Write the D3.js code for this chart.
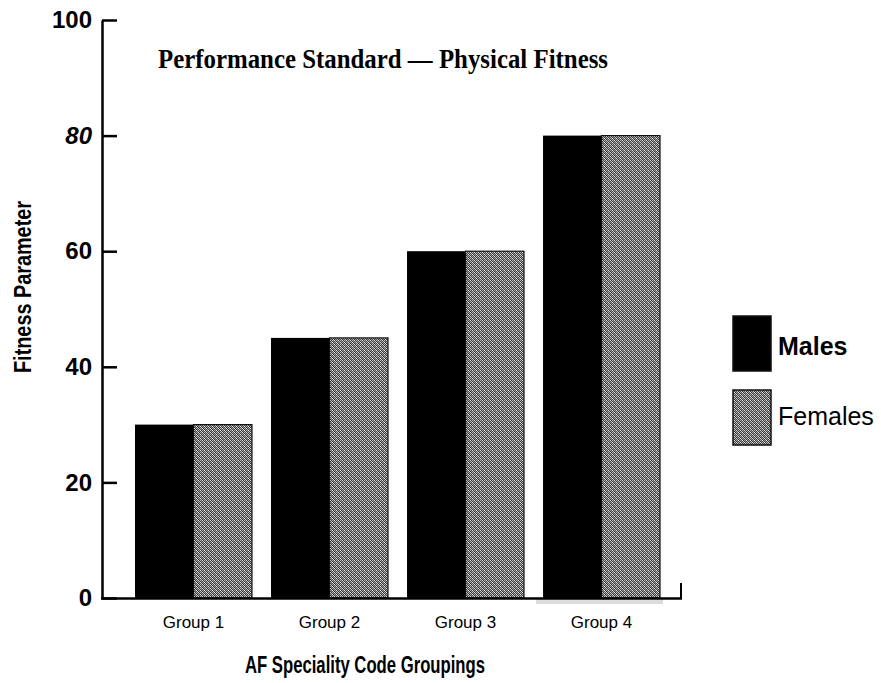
<!DOCTYPE html>
<html>
<head>
<meta charset="utf-8">
<script src="https://cdn.jsdelivr.net/npm/d3@7"></script>
<style>
  body { margin: 0; background: #fff; }
  svg { display: block; }
</style>
</head>
<body>
<svg width="881" height="683"></svg>
<script>
// data
var groups = ["Group 1", "Group 2", "Group 3", "Group 4"]
var males = [30, 45, 60, 80]
var females = [30, 45, 60, 80]
var yTicks = [0, 20, 40, 60, 80, 100]
var seriesNames = ["Males", "Females"]

var svg = d3.select("svg")

// stipple pattern for the female bars (4x4 pixel tile)
var tile = [
    "#2e2e2e", "#b8b8b8", "#4a4a4a", "#e6e6e6",
    "#c8c8c8", "#3a3a3a", "#9a9a9a", "#404040",
    "#505050", "#f0f0f0", "#2a2a2a", "#a8a8a8",
    "#909090", "#444444", "#d0d0d0", "#363636"
]
var defs = svg.append("defs")
var pat = defs.append("pattern")
    .attr("id", "stipple")
    .attr("patternUnits", "userSpaceOnUse")
    .attr("width", 4).attr("height", 4)
pat.selectAll("rect")
    .data(tile)
    .enter()
    .append("rect")
    .attr("x", (d, i) => i % 4)
    .attr("y", (d, i) => Math.floor(i / 4))
    .attr("width", 1).attr("height", 1)
    .attr("fill", d => d)

var yScale = d3.scaleLinear().domain([0, 100]).range([598, 20])
var xScale = d3.scaleBand().domain(groups).range([135, 660]).paddingInner(0.14).paddingOuter(0)
var subScale = d3.scaleBand().domain(seriesNames).range([0, xScale.bandwidth()])

// faint scan strip under group 4
svg.append("rect")
    .attr("x", xScale("Group 4") - 7).attr("y", 599)
    .attr("width", xScale.bandwidth() + 10).attr("height", 5)
    .attr("fill", "#dcdcdc")

// bars
var g = svg.selectAll("g.grp")
    .data(groups)
    .enter()
    .append("g")
    .attr("class", "grp")
    .attr("transform", d => "translate(" + xScale(d) + ",0)")

g.append("rect")
    .attr("x", subScale("Males"))
    .attr("y", (d, i) => yScale(males[i]))
    .attr("width", subScale.bandwidth())
    .attr("height", (d, i) => yScale(0) - yScale(males[i]))
    .attr("fill", "#000")

g.append("rect")
    .attr("x", subScale("Females"))
    .attr("y", (d, i) => yScale(females[i]))
    .attr("width", subScale.bandwidth())
    .attr("height", (d, i) => yScale(0) - yScale(females[i]))
    .attr("fill", "url(#stipple)")
    .attr("stroke", "#111")
    .attr("stroke-width", 1.2)

// y axis
var yAxis = d3.axisLeft(yScale)
    .tickValues(yTicks)
    .tickSizeInner(-15)
    .tickSizeOuter(0)
    .tickPadding(10)
svg.append("g").attr("id", "yAxis")
    .attr("transform", "translate(102,0)")
    .call(yAxis)
    .call(s => s.select(".domain").attr("stroke-width", 2.5))
    .call(s => s.selectAll(".tick line").attr("stroke-width", 2.5))
    .call(s => s.selectAll(".tick text")
        .attr("font-family", "Liberation Sans, Arial, sans-serif")
        .attr("font-size", 24)
        .attr("font-weight", "bold")
        .attr("fill", "#000")
        .attr("font-style", d => d == 80 ? "italic" : "normal"))

// x axis line with end tick
svg.append("line")
    .attr("x1", 101).attr("x2", 682)
    .attr("y1", 598.5).attr("y2", 598.5)
    .attr("stroke", "#000").attr("stroke-width", 2.5)
svg.append("line")
    .attr("x1", 681).attr("x2", 681)
    .attr("y1", 583).attr("y2", 599)
    .attr("stroke", "#000").attr("stroke-width", 2)

// group labels
svg.selectAll("text.grpLabel")
    .data(groups)
    .enter()
    .append("text")
    .attr("class", "grpLabel")
    .attr("x", d => xScale(d) + xScale.bandwidth() / 2)
    .attr("y", 628)
    .attr("text-anchor", "middle")
    .attr("font-family", "Liberation Sans, Arial, sans-serif")
    .attr("font-size", 17)
    .text(d => d)

// titles
svg.append("text")
    .attr("x", 158).attr("y", 68)
    .attr("font-family", "Liberation Serif, Times New Roman, serif")
    .attr("font-weight", "bold")
    .attr("font-size", 27)
    .attr("textLength", 450)
    .attr("lengthAdjust", "spacingAndGlyphs")
    .text("Performance Standard \u2014 Physical Fitness")

svg.append("text")
    .attr("x", 365).attr("y", 673)
    .attr("text-anchor", "middle")
    .attr("font-family", "Liberation Sans Narrow, Arial Narrow, sans-serif")
    .attr("font-weight", "bold")
    .attr("font-size", 24)
    .attr("textLength", 240)
    .attr("lengthAdjust", "spacingAndGlyphs")
    .text("AF Speciality Code Groupings")

svg.append("text")
    .attr("transform", "translate(31,287) rotate(-90)")
    .attr("text-anchor", "middle")
    .attr("font-family", "Liberation Sans Narrow, Arial Narrow, sans-serif")
    .attr("font-weight", "bold")
    .attr("font-size", 23)
    .attr("textLength", 172)
    .attr("lengthAdjust", "spacingAndGlyphs")
    .text("Fitness Parameter")

// legend
var legend = svg.append("g").attr("class", "legend").attr("transform", "translate(733,316)")
var li = legend.selectAll("g")
    .data(seriesNames)
    .enter()
    .append("g")
    .attr("transform", (d, i) => "translate(0," + i * 74 + ")")
li.append("rect")
    .attr("width", 38).attr("height", 55)
    .attr("fill", d => d == "Males" ? "#000" : "url(#stipple)")
    .attr("stroke", "#111").attr("stroke-width", 1.5)
li.append("text")
    .attr("x", 45).attr("y", (d, i) => i == 0 ? 39 : 35)
    .attr("font-family", "Liberation Sans, Arial, sans-serif")
    .attr("font-size", 25)
    .attr("font-weight", d => d == "Males" ? "bold" : "normal")
    .text(d => d)
</script>
</body>
</html>
